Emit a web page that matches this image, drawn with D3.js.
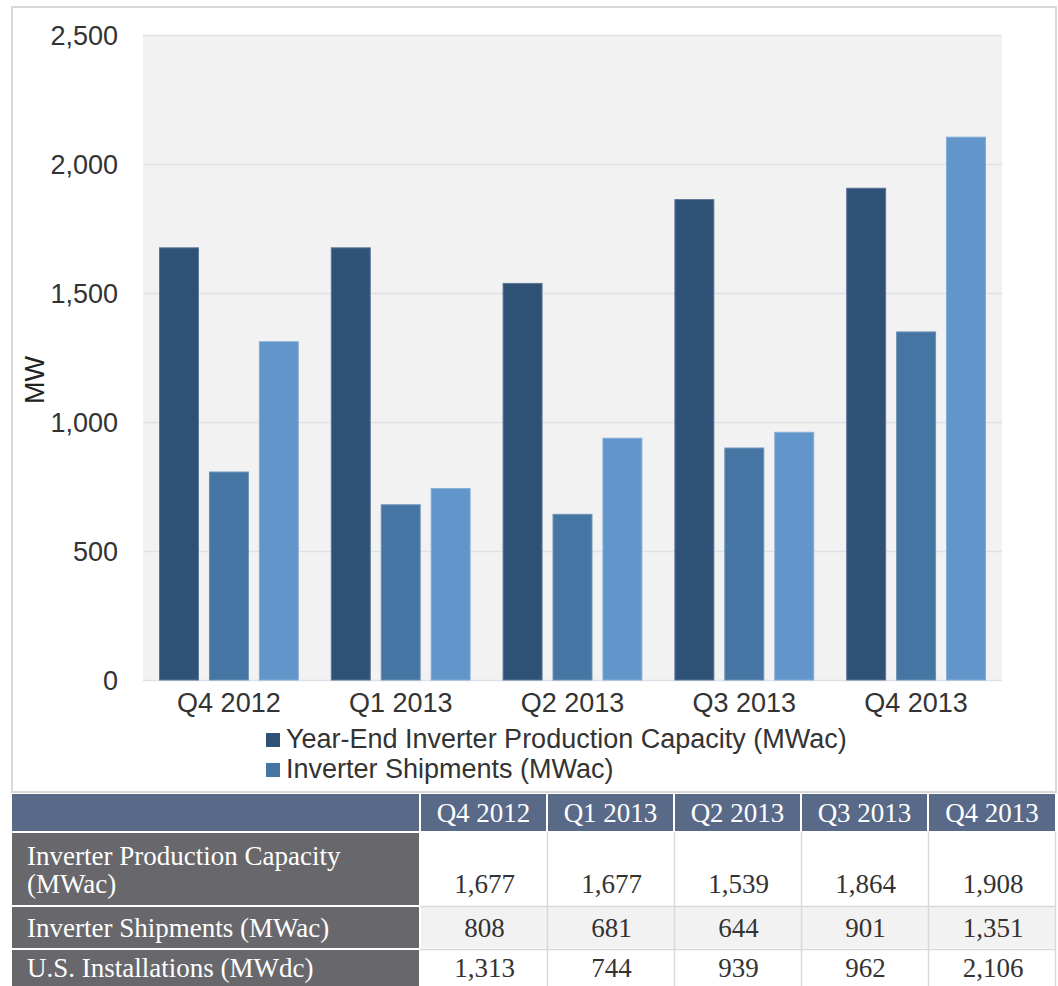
<!DOCTYPE html>
<html>
<head>
<meta charset="utf-8">
<script src="https://cdn.jsdelivr.net/npm/d3@7"></script>
<style>
html,body{margin:0;padding:0;background:#fff;}
svg{display:block;}
</style>
</head>
<body>
<svg id="chart" width="1058" height="986"></svg>
<script>
// ---- data ----
const categories = ["Q4 2012", "Q1 2013", "Q2 2013", "Q3 2013", "Q4 2013"];
const capacity = [1677, 1677, 1539, 1864, 1908];
const shipments = [808, 681, 644, 901, 1351];
const installations = [1313, 744, 939, 962, 2106];
const seriesNames = ["Year-End Inverter Production Capacity (MWac)", "Inverter Shipments (MWac)", "U.S. Installations (MWdc)"];
const legendNames = ["Year-End Inverter Production Capacity (MWac)", "Inverter Shipments (MWac)"];
const yTicks = [0, 500, 1000, 1500, 2000, 2500];
const tableRowLabels = [["Inverter Production Capacity", "(MWac)"], ["Inverter Shipments (MWac)"], ["U.S. Installations (MWdc)"]];
const tableValues = [capacity, shipments, installations];

const colors = ["#2f5176", "#4575a2", "#6295c9"];
const strokes = ["#5a7597", "#6a91b6", "#84acd5"];

const svg = d3.select("#chart");
const sans = "'Liberation Sans', Arial, sans-serif";
const serif = "'Liberation Serif', 'Times New Roman', serif";
const fs = 27;

// outer chart border
svg.append("rect").attr("x", 12).attr("y", 7).attr("width", 1044).attr("height", 785)
  .attr("fill", "#fff").attr("stroke", "#d9d9d9").attr("stroke-width", 2);

const plot = {left: 143, top: 35, right: 1002, bottom: 680};

const x0 = d3.scaleBand().domain(categories).range([plot.left, plot.right]).paddingInner(0).paddingOuter(0);
const y = d3.scaleLinear().domain([0, 2500]).range([plot.bottom, plot.top]);

svg.append("rect").attr("x", plot.left).attr("y", plot.top)
  .attr("width", plot.right - plot.left).attr("height", plot.bottom - plot.top).attr("fill", "#f2f2f2");

// gridlines
svg.append("g").selectAll("line").data(yTicks).join("line")
  .attr("x1", plot.left).attr("x2", plot.right)
  .attr("y1", d => Math.round(y(d)) + 0.5).attr("y2", d => Math.round(y(d)) + 0.5)
  .attr("stroke", "#dfe1e6").attr("stroke-width", 1.5);

// y axis labels
const yAxis = d3.axisLeft(y).tickValues(yTicks).tickFormat(d3.format(",")).tickSize(0).tickPadding(0);
const yg = svg.append("g").attr("transform", `translate(118,0)`).call(yAxis);
yg.select(".domain").remove();
yg.selectAll("text").attr("font-family", sans).attr("font-size", fs).attr("fill", "#333").attr("dy", "0.34em");

// x axis labels
const xAxis = d3.axisBottom(x0).tickSize(0).tickPadding(0);
const xg = svg.append("g").attr("transform", `translate(0,${plot.bottom})`).call(xAxis);
xg.select(".domain").remove();
xg.selectAll("text").attr("font-family", sans).attr("font-size", fs).attr("fill", "#333").attr("dy", null).attr("y", 32);

// MW label
svg.append("text").attr("transform", "translate(44,380) rotate(-90)")
  .attr("text-anchor", "middle").attr("font-family", sans).attr("font-size", fs).attr("fill", "#222").text("MW");

// bars
const x1 = d3.scaleBand().domain([0, 1, 2]).range([16, x0.bandwidth() - 16]).paddingInner(0.2);
const allSeries = [capacity, shipments, installations];
const groups = svg.append("g").selectAll("g").data(categories).join("g")
  .attr("transform", d => `translate(${x0(d)},0)`);
groups.selectAll("rect").data((d, i) => allSeries.map((s, k) => ({k, v: s[i]}))).join("rect")
  .attr("x", d => x1(d.k) + 0.5).attr("width", x1.bandwidth() - 1)
  .attr("y", d => y(d.v) + 0.5).attr("height", d => y(0) - y(d.v) - 0.5)
  .attr("fill", d => colors[d.k]).attr("stroke", d => strokes[d.k]).attr("stroke-width", 1);

// legend
const leg = svg.append("g");
legendNames.forEach((name, i) => {
  const yy = 733 + i * 30;
  leg.append("rect").attr("x", 266).attr("y", yy).attr("width", 14).attr("height", 14).attr("fill", colors[i]);
  leg.append("text").attr("x", 286).attr("y", yy + 15).attr("font-family", sans).attr("font-size", fs)
    .attr("fill", "#333").text(name);
});

// ---- table ----
const colEdges = [12, 420, 547, 674, 801, 928, 1056];
const rowEdges = [794, 832, 906, 949, 986];
const tbl = svg.append("g");

// header row
for (let c = 0; c < 6; c++) {
  const x = colEdges[c] + (c === 0 ? 0 : 1);
  const w = colEdges[c + 1] - x - 1;
  tbl.append("rect").attr("x", x).attr("y", rowEdges[0]).attr("width", w).attr("height", rowEdges[1] - rowEdges[0] - 1)
    .attr("fill", "#596a89");
  if (c > 0) {
    tbl.append("text").attr("x", x + w / 2).attr("y", 822).attr("text-anchor", "middle")
      .attr("font-family", serif).attr("font-size", fs).attr("fill", "#fff").text(categories[c - 1]);
  }
}
// body rows
for (let r = 0; r < 3; r++) {
  const top = rowEdges[r + 1] + 1;
  const h = rowEdges[r + 2] - top - (r < 2 ? 1 : 0);
  tbl.append("rect").attr("x", 12).attr("y", top).attr("width", colEdges[1] - 12 - 1).attr("height", h).attr("fill", "#68686c");
  tbl.append("rect").attr("x", colEdges[1] + 1).attr("y", top).attr("width", colEdges[6] - colEdges[1] - 1).attr("height", h)
    .attr("fill", r === 1 ? "#f2f2f2" : "#fff");
  const lines = tableRowLabels[r];
  const base = r === 0 ? 865 : (r === 1 ? 937 : 977);
  lines.forEach((t, li) => {
    tbl.append("text").attr("x", 27).attr("y", base + li * 28).attr("font-family", serif).attr("font-size", fs)
      .attr("fill", "#fff").text(t);
  });
  const vy = r === 0 ? 893 : base;
  tableValues[r].forEach((v, c) => {
    tbl.append("text").attr("x", (colEdges[c + 1] + colEdges[c + 2]) / 2 + 1).attr("y", vy).attr("text-anchor", "middle")
      .attr("font-family", serif).attr("font-size", fs).attr("fill", "#333").text(d3.format(",")(v));
  });
}
// grid lines in value area
for (let c = 2; c < 6; c++) {
  tbl.append("line").attr("x1", colEdges[c] + 0.5).attr("x2", colEdges[c] + 0.5).attr("y1", rowEdges[1]).attr("y2", 986)
    .attr("stroke", "#d9d9d9").attr("stroke-width", 1.5);
}
tbl.append("line").attr("x1", colEdges[6] - 0.5).attr("x2", colEdges[6] - 0.5).attr("y1", rowEdges[1]).attr("y2", 986)
  .attr("stroke", "#d9d9d9").attr("stroke-width", 1.5);
for (let r = 2; r < 4; r++) {
  tbl.append("line").attr("x1", colEdges[1]).attr("x2", colEdges[6]).attr("y1", rowEdges[r] + 0.5).attr("y2", rowEdges[r] + 0.5)
    .attr("stroke", "#d9d9d9").attr("stroke-width", 1.5);
}
</script>
</body>
</html>
